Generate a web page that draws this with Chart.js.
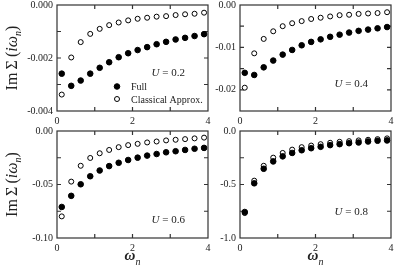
<!DOCTYPE html>
<html>
<head>
<meta charset="utf-8">
<script src="https://cdn.jsdelivr.net/npm/chart.js@4.4.0/dist/chart.umd.min.js"></script>
<style>
  html, body { margin: 0; padding: 0; background: #fff; width: 395px; height: 270px; overflow: hidden; }
  canvas { position: absolute; }
</style>
</head>
<body>
<script>
// Matsubara frequencies (x axis)
const omega = [0.126, 0.377, 0.628, 0.880, 1.131, 1.382, 1.634, 1.885, 2.136, 2.388, 2.639, 2.890, 3.142, 3.393, 3.644, 3.896];

// Im Sigma, full vs classical approx, one pair per U
const fullU02 = [-0.00259, -0.00305, -0.00285, -0.00259, -0.00237, -0.00216, -0.00197, -0.00182, -0.00170, -0.00159, -0.00148, -0.00139, -0.00130, -0.00124, -0.00117, -0.00110];
const classicU02 = [-0.00338, -0.00198, -0.00140, -0.00109, -0.00090, -0.00076, -0.00066, -0.00058, -0.00052, -0.00048, -0.00044, -0.00042, -0.00038, -0.00035, -0.00033, -0.00029];

const fullU04 = [-0.0160, -0.0165, -0.0147, -0.0131, -0.0117, -0.0106, -0.0095, -0.0087, -0.0081, -0.0075, -0.0070, -0.0065, -0.0061, -0.0058, -0.0055, -0.0052];
const classicU04 = [-0.0195, -0.0114, -0.0080, -0.0062, -0.0050, -0.0043, -0.0038, -0.0033, -0.0030, -0.0027, -0.0024, -0.0023, -0.0021, -0.0020, -0.0019, -0.0017];

const fullU06 = [-0.0710, -0.0606, -0.0498, -0.0423, -0.0369, -0.0328, -0.0297, -0.0271, -0.0249, -0.0230, -0.0215, -0.0199, -0.0189, -0.0177, -0.0166, -0.0158];
const classicU06 = [-0.0798, -0.0473, -0.0325, -0.0252, -0.0208, -0.0177, -0.0151, -0.0132, -0.0120, -0.0107, -0.0098, -0.0088, -0.0082, -0.0076, -0.0069, -0.0062];

const fullU08 = [-0.757, -0.489, -0.353, -0.284, -0.237, -0.205, -0.180, -0.161, -0.148, -0.132, -0.123, -0.114, -0.107, -0.098, -0.091, -0.088];
const classicU08 = [-0.767, -0.464, -0.325, -0.249, -0.205, -0.174, -0.151, -0.136, -0.123, -0.110, -0.101, -0.095, -0.088, -0.082, -0.076, -0.069];

// tick labels
const xMajor = [0, 2, 4];
const xLabels = ['0', '2', '4'];
const yMajorU02 = [0, -0.002, -0.004];
const yLabelsU02 = ['0.000', '-0.002', '-0.004'];
const yMajorU04 = [0, -0.01, -0.02];
const yLabelsU04 = ['0.00', '-0.01', '-0.02'];
const yMajorU06 = [0, -0.05, -0.10];
const yLabelsU06 = ['0.00', '-0.05', '-0.10'];
const yMajorU08 = [0, -0.5, -1.0];
const yLabelsU08 = ['0.0', '-0.5', '-1.0'];

const seriesNames = ['Full', 'Classical Approx.'];

const SERIF = "'Liberation Serif', 'Times New Roman', serif";
const INK = '#222';

// plot area in page pixels: left, top, right, bottom
const panels = [
  { rect: [57, 5, 208, 111], full: fullU02, classic: classicU02, yMin: -0.004, yStep: 0.001, yMajor: yMajorU02, yLabels: yLabelsU02, u: '0.2', uY: 71, yTitle: true, xTitle: false, legend: true },
  { rect: [240, 5, 391, 111], full: fullU04, classic: classicU04, yMin: -0.025, yStep: 0.005, yMajor: yMajorU04, yLabels: yLabelsU04, u: '0.4', uY: 82, yTitle: false, xTitle: false, legend: false },
  { rect: [57, 131, 208, 238], full: fullU06, classic: classicU06, yMin: -0.10, yStep: 0.025, yMajor: yMajorU06, yLabels: yLabelsU06, u: '0.6', uY: 92, yTitle: true, xTitle: true, legend: false },
  { rect: [240, 131, 391, 238], full: fullU08, classic: classicU08, yMin: -1.0, yStep: 0.25, yMajor: yMajorU08, yLabels: yLabelsU08, u: '0.8', uY: 84, yTitle: false, xTitle: true, legend: false }
];

function pickLabel(value, majors, labels, step) {
  const i = majors.findIndex(m => Math.abs(m - value) < step * 0.01);
  return i >= 0 ? labels[i] : '';
}

function richText(ctx, segs, x, y, align) {
  let w = 0;
  segs.forEach(s => { ctx.font = s.font; s.w = ctx.measureText(s.text).width; w += s.w; });
  let cx = align === 'center' ? x - w / 2 : (align === 'right' ? x - w : x);
  segs.forEach(s => {
    ctx.font = s.font;
    ctx.fillText(s.text, cx, y + (s.dy || 0));
    cx += s.w;
  });
}

const decor = {
  id: 'decor',
  beforeDatasetsDraw(chart, args, o) {
    const { ctx, chartArea: a, scales } = chart;
    ctx.save();
    ctx.strokeStyle = '#333';
    ctx.lineWidth = 1.2;
    ctx.strokeRect(a.left, a.top, a.right - a.left, a.bottom - a.top);
    ctx.beginPath();
    scales.x.ticks.forEach(t => {
      const px = scales.x.getPixelForValue(t.value);
      if (px <= a.left + 1 || px >= a.right - 1) return;
      ctx.moveTo(px, a.bottom); ctx.lineTo(px, a.bottom - 4);
      ctx.moveTo(px, a.top); ctx.lineTo(px, a.top + 4);
    });
    scales.y.ticks.forEach(t => {
      const py = scales.y.getPixelForValue(t.value);
      if (py <= a.top + 1 || py >= a.bottom - 1) return;
      ctx.moveTo(a.left, py); ctx.lineTo(a.left + 4, py);
      ctx.moveTo(a.right, py); ctx.lineTo(a.right - 4, py);
    });
    ctx.stroke();
    ctx.restore();
  },
  afterDraw(chart, args, o) {
    const { ctx, chartArea: a } = chart;
    ctx.save();
    ctx.fillStyle = INK;
    ctx.textAlign = 'left';
    ctx.textBaseline = 'alphabetic';

    // U = ... label
    richText(ctx, [
      { text: 'U', font: 'italic 11px ' + SERIF },
      { text: ' = ' + o.u, font: '11px ' + SERIF }
    ], a.right - 23, a.top + o.uY, 'right');

    // legend
    if (o.legend) {
      chart.data.datasets.forEach((ds, i) => {
        const y = a.top + 85 + i * 12.5;
        ctx.beginPath();
        ctx.arc(a.left + 60, y - 3.5, ds.pointRadius, 0, Math.PI * 2);
        ctx.fillStyle = ds.backgroundColor;
        ctx.fill();
        ctx.lineWidth = 1;
        ctx.strokeStyle = ds.borderColor;
        ctx.stroke();
        ctx.fillStyle = INK;
        ctx.font = '10px ' + SERIF;
        ctx.fillText(ds.label, a.left + 74, y);
      });
    }

    // y title
    if (o.yTitle) {
      ctx.save();
      ctx.translate(a.left - 40, (a.top + a.bottom) / 2);
      ctx.rotate(-Math.PI / 2);
      richText(ctx, [
        { text: 'Im\u2009\u03A3\u2009(', font: '16px ' + SERIF },
        { text: 'i\u03C9', font: 'italic 16px ' + SERIF },
        { text: 'n', font: 'italic 10px ' + SERIF, dy: 4 },
        { text: ')', font: '16px ' + SERIF }
      ], 0, 0, 'center');
      ctx.restore();
    }

    // x title
    if (o.xTitle) {
      richText(ctx, [
        { text: '\u03C9', font: 'italic bold 15px ' + SERIF },
        { text: 'n', font: 'italic 10px ' + SERIF, dy: 5 }
      ], (a.left + a.right) / 2, a.bottom + 22, 'center');
    }
    ctx.restore();
  }
};

const PADL = 60, PADT = 15, PADR = 15, PADB = 40;

panels.forEach(p => {
  const [l, t, r, b] = p.rect;
  const cv = document.createElement('canvas');
  cv.width = (r - l) + PADL + PADR;
  cv.height = (b - t) + PADT + PADB;
  cv.style.left = (l - PADL) + 'px';
  cv.style.top = (t - PADT) + 'px';
  document.body.appendChild(cv);

  const tickFont = { family: SERIF, size: 10 };

  new Chart(cv.getContext('2d'), {
    type: 'scatter',
    data: {
      datasets: [
        {
          label: seriesNames[0],
          data: omega.map((x, i) => ({ x: x, y: p.full[i] })),
          backgroundColor: '#000',
          borderColor: '#000',
          borderWidth: 1,
          pointRadius: 2.8
        },
        {
          label: seriesNames[1],
          data: omega.map((x, i) => ({ x: x, y: p.classic[i] })),
          backgroundColor: '#fff',
          borderColor: '#000',
          borderWidth: 1,
          pointRadius: 2.5
        }
      ]
    },
    options: {
      responsive: false,
      animation: false,
      layout: { padding: { left: 0, top: PADT, right: PADR, bottom: 0 } },
      plugins: {
        legend: { display: false },
        tooltip: { enabled: false },
        decor: { u: p.u, uY: p.uY, yTitle: p.yTitle, xTitle: p.xTitle, legend: p.legend }
      },
      scales: {
        x: {
          type: 'linear',
          min: 0,
          max: 4,
          grid: { display: false, drawTicks: false },
          border: { display: false },
          ticks: {
            stepSize: 1,
            autoSkip: false,
            maxRotation: 0,
            padding: 4,
            color: INK,
            font: tickFont,
            callback: v => pickLabel(v, xMajor, xLabels, 1)
          },
          afterFit: s => { s.height = PADB; }
        },
        y: {
          type: 'linear',
          min: p.yMin,
          max: 0,
          grid: { display: false, drawTicks: false },
          border: { display: false },
          ticks: {
            stepSize: p.yStep,
            autoSkip: false,
            padding: 4,
            color: INK,
            font: tickFont,
            callback: v => pickLabel(v, p.yMajor, p.yLabels, p.yStep)
          },
          afterFit: s => { s.width = PADL; }
        }
      }
    },
    plugins: [decor]
  });
});
</script>
</body>
</html>
